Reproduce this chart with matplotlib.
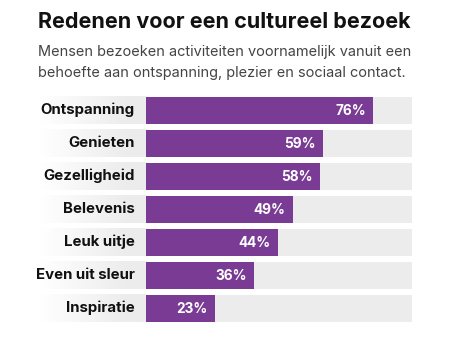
import numpy as np
import matplotlib.pyplot as plt
from matplotlib.colors import LinearSegmentedColormap

categories = ["Ontspanning", "Genieten", "Gezelligheid", "Belevenis",
              "Leuk uitje", "Even uit sleur", "Inspiratie"]
values = [76, 59, 58, 49, 44, 36, 23]
value_labels = ["76%", "59%", "58%", "49%", "44%", "36%", "23%"]

purple = "#7a3b94"
grey = "#ececec"
font = "Inter"

W, H = 461, 338
fig = plt.figure(figsize=(W / 100, H / 100), dpi=100)

# axes in pixel coords: x 40..412, y 93.7..324.7
ax = fig.add_axes([40 / W, 1 - 324.7 / H, 372 / W, 231 / H])
xmin, xmax = -35.7, 89
ax.set_xlim(xmin, xmax)
ax.set_ylim(len(categories) - 0.5, -0.5)
ax.axis("off")

bh = 0.82
grad = LinearSegmentedColormap.from_list("g", ["#ffffff", grey])
ramp = np.linspace(0, 1, 200).reshape(1, -1)
ramp = np.clip(ramp * 1.2, 0, 1)
for i, (cat, v, lab) in enumerate(zip(categories, values, value_labels)):
    ax.imshow(ramp, cmap=grad, vmin=0, vmax=1, aspect="auto",
              extent=(xmin, 0, i + bh / 2, i - bh / 2), zorder=0)
    ax.barh(i, xmax, height=bh, left=0, color=grey, zorder=1)
    ax.barh(i, v, height=bh, color=purple, zorder=2)
    ax.text(-3.9, i, cat, ha="right", va="center", fontsize=10.8,
            fontweight="bold", color="#111111", family=font, zorder=3)
    ax.text(v - 2.4, i + 0.03, lab, ha="right", va="center", fontsize=9.8,
            fontweight="bold", color="white", family=font, zorder=3)

fig.text(38 / W, 1 - 22 / H, "Redenen voor een cultureel bezoek",
         ha="left", va="center", fontsize=15.5, fontweight="bold",
         color="#111111", family=font)
fig.text(38 / W, 1 - 52 / H, "Mensen bezoeken activiteiten voornamelijk vanuit een",
         ha="left", va="center", fontsize=10.45, color="#444444", family=font)
fig.text(38 / W, 1 - 73 / H, "behoefte aan ontspanning, plezier en sociaal contact.",
         ha="left", va="center", fontsize=10.45, color="#444444", family=font)

fig.savefig("out.png", dpi=100)
